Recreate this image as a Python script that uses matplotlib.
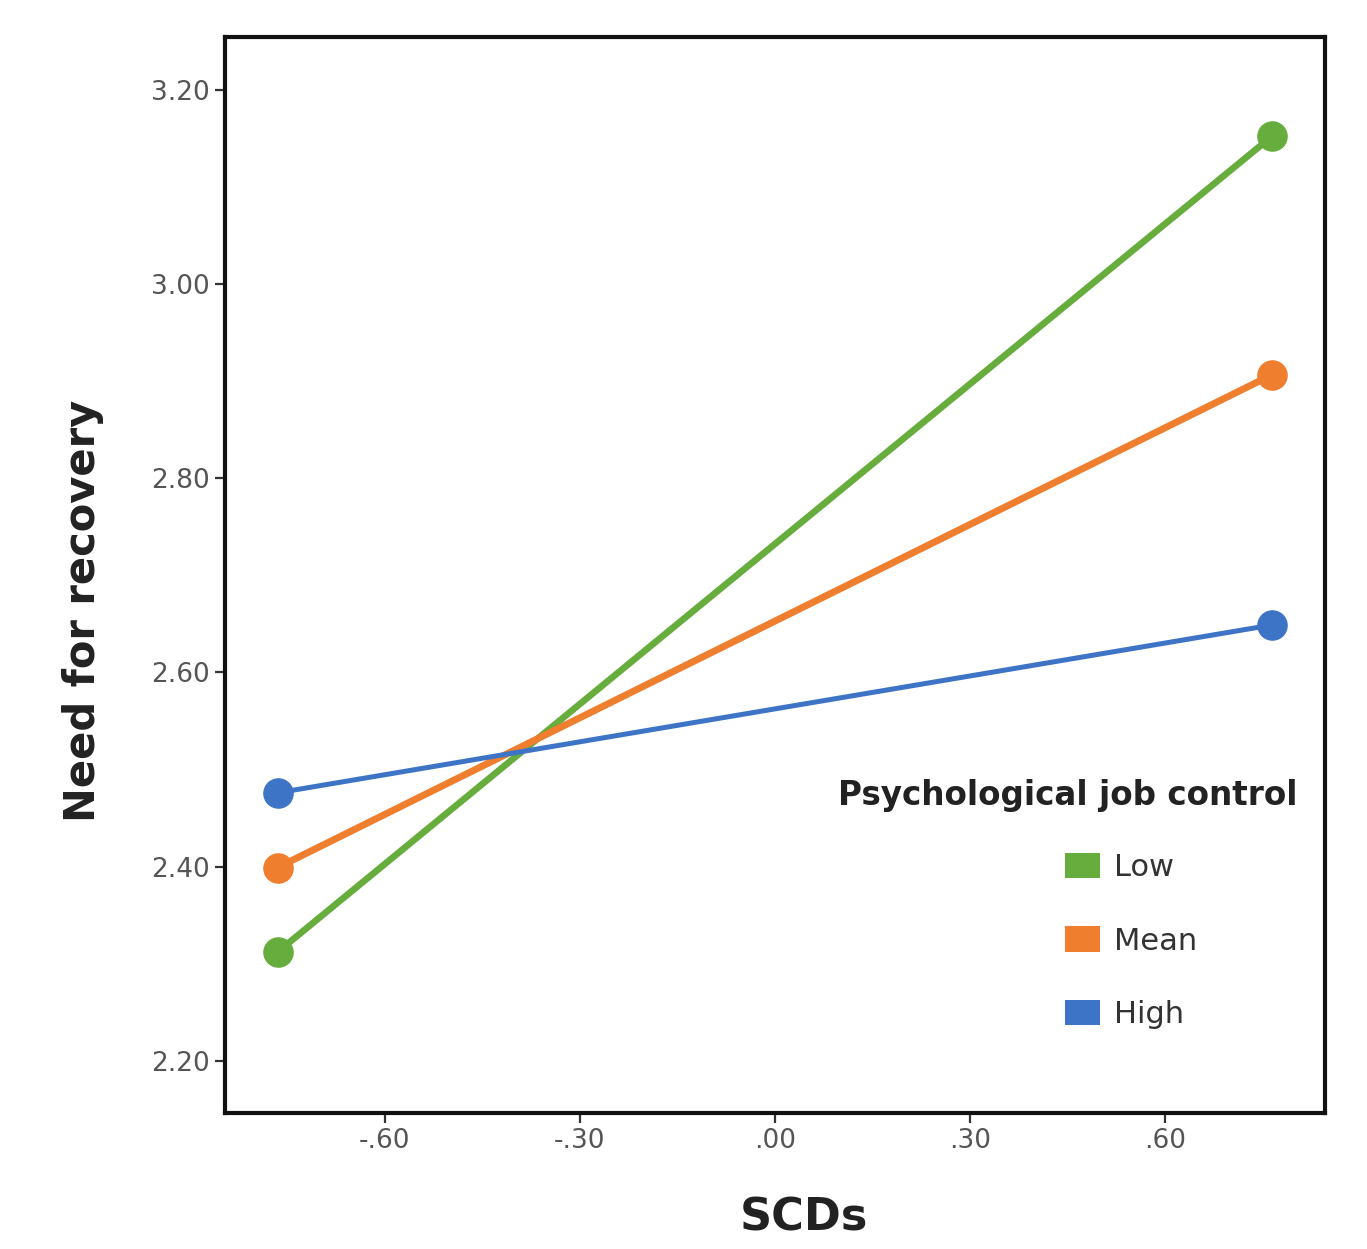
import matplotlib.pyplot as plt
from matplotlib.patches import Patch

# simple slopes: SCDs (-1 SD, +1 SD) by level of job control
scd = [-0.765, 0.765]
groups = ["Low", "Mean", "High"]
need_low = [2.312, 3.153]
need_mean = [2.399, 2.907]
need_high = [2.476, 2.649]

xticks = [-0.60, -0.30, 0.00, 0.30, 0.60]
xticklabels = ["-.60", "-.30", ".00", ".30", ".60"]
yticks = [2.20, 2.40, 2.60, 2.80, 3.00, 3.20]
yticklabels = ["2.20", "2.40", "2.60", "2.80", "3.00", "3.20"]

colors = {"Low": "#66ad3d", "Mean": "#ef7e2e", "High": "#3d74c6"}
widths = {"Low": 4.8, "Mean": 5.0, "High": 3.6}

fig = plt.figure(figsize=(13.67, 12.49), dpi=100)
ax = fig.add_axes([0.1646, 0.1089, 0.8047, 0.8615])

for name, vals in zip(groups, [need_low, need_mean, need_high]):
    ax.plot(scd, vals, "-o", color=colors[name], lw=widths[name],
            markersize=21, solid_capstyle="round", zorder=3)

ax.set_xlim(-0.846, 0.846)
ax.set_ylim(2.146, 3.255)
ax.set_xticks(xticks)
ax.set_xticklabels(xticklabels)
ax.set_yticks(yticks)
ax.set_yticklabels(yticklabels)
ax.tick_params(axis="both", length=7, width=1.6, color="#333333",
               labelsize=19, labelcolor="#555555", pad=4)

for sp in ax.spines.values():
    sp.set_linewidth(3)
    sp.set_color("#111111")

ax.set_xlabel("SCDs", fontsize=32, fontweight="bold", color="#222222", labelpad=32)
ax.xaxis.set_label_coords(0.526, -0.0775)
ax.set_ylabel("Need for recovery", fontsize=30, fontweight="bold", color="#222222")
ax.yaxis.set_label_coords(-0.110, 0.4665)

ax.text(0.557, 0.2955, "Psychological job control", transform=ax.transAxes,
        fontsize=23.5, fontweight="bold", color="#222222", ha="left", va="center")
handles = [Patch(facecolor=colors[g], edgecolor="none") for g in groups]
ax.legend(handles, groups, loc="upper left", bbox_to_anchor=(0.7636, 0.2418),
          frameon=False, fontsize=22, handlelength=1.15, handleheight=0.9,
          handletextpad=0.45, labelspacing=1.45, borderpad=0, borderaxespad=0,
          labelcolor="#333333")

fig.savefig("out.png", dpi=100)
